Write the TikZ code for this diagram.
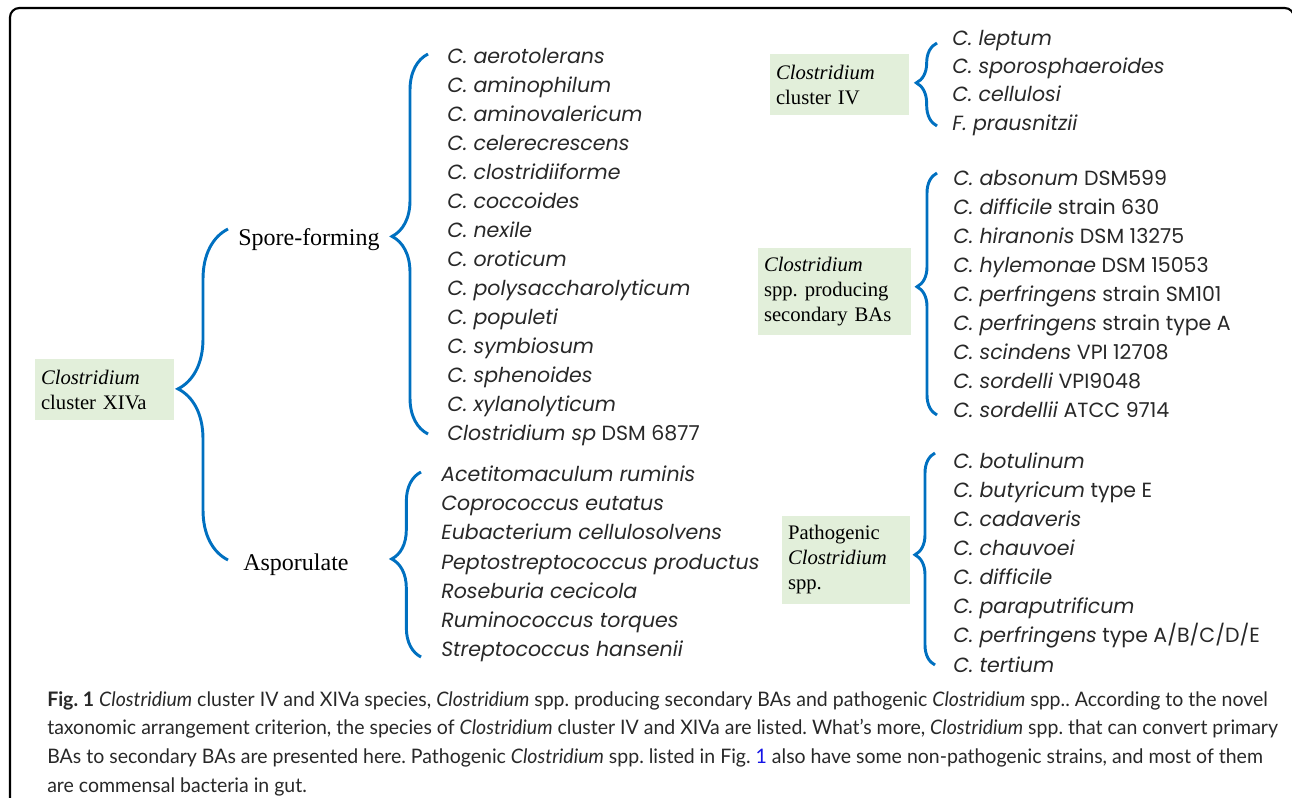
\documentclass[tikz,border=0pt]{standalone}
\usepackage{fontspec}
\setmainfont{Liberation Serif}
\newfontfamily\listfont[Ligatures=NoCommon]{Poppins}
\newfontfamily\capfont[FakeStretch=0.975,Ligatures=NoCommon]{Lato}
\usetikzlibrary{decorations.pathreplacing}
\definecolor{bracecol}{RGB}{0,112,192}
\definecolor{boxgreen}{RGB}{226,239,218}
\definecolor{linkblue}{RGB}{20,20,230}
\definecolor{txtgray}{RGB}{40,40,40}
\frenchspacing
\begin{document}
\frenchspacing
\begin{tikzpicture}[x=0.75pt,y=-0.75pt,
  lab/.style={font=\fontsize{18}{21}\selectfont, inner sep=0pt, anchor=base west},
  grp/.style={fill=boxgreen, font=\fontsize{15.5}{18.75}\selectfont, align=left, inner xsep=4.5pt, inner ysep=0pt},
  item/.style={font=\listfont\fontsize{15.4}{18}\selectfont, text=txtgray, inner sep=0pt, anchor=base west},
  brc/.style={draw=bracecol, line width=2.2pt, decorate},
  frame/.style={draw=black, line width=1.6pt, rounded corners=7pt}
]
\useasboundingbox (0,0) rectangle (1292,797);
\clip (0,0) rectangle (1292,797);
\draw[frame] (10,8) rectangle (1294,820);

% group boxes
\node[grp, minimum width=104.25pt, minimum height=45.75pt, text width=95.25pt] (xiva) at (104.5,389.5) {\textit{Clostridium}\\cluster XIVa};
\node[grp, minimum width=104.25pt, minimum height=45.75pt, text width=95.25pt] (civ) at (839.5,84.5) {\textit{Clostridium}\\cluster IV};
\node[grp, minimum width=114.75pt, minimum height=65.25pt, text width=105.75pt] (bas) at (834.5,291.5) {\textit{Clostridium}\\spp. producing\\secondary BAs};
\node[grp, minimum width=96pt, minimum height=66pt, text width=87pt] (path) at (846,560) {Pathogenic\\\textit{Clostridium}\\spp.};

% sub labels
\node[lab] (spore) at (238,245) {Spore-forming};
\node[lab] (aspo) at (243,570) {Asporulate};

% lists
\foreach \t [count=\i from 0] in {C. aerotolerans, C. aminophilum, C. aminovalericum, C. celerecrescens, C. clostridiiforme, C. coccoides, C. nexile, C. oroticum, C. polysaccharolyticum, C. populeti, C. symbiosum, C. sphenoides, C. xylanolyticum}
  \node[item] (sp\i) at (447,{63+29*\i}) {\textit{\t}};
\node[item] (sp13) at (447,440) {\textit{Clostridium sp} DSM 6877};

\foreach \t [count=\i from 0] in {Acetitomaculum ruminis, Coprococcus eutatus, Eubacterium cellulosolvens, Peptostreptococcus productus, Roseburia cecicola, Ruminococcus torques, Streptococcus hansenii}
  \node[item] (as\i) at (441,{481+29.33*\i}) {\textit{\t}};

\foreach \t [count=\i from 0] in {C. leptum, C. sporosphaeroides, C. cellulosi, F. prausnitzii}
  \node[item] (iv\i) at (952,{45+28.4*\i}) {\textit{\t}};

\foreach \t/\s [count=\i from 0] in {C. absonum/DSM599, C. difficile/strain 630, C. hiranonis/DSM 13275, C. hylemonae/DSM 15053, C. perfringens/strain SM101, C. perfringens/strain type A, C. scindens/VPI 12708, C. sordelli/VPI9048, C. sordellii/ATCC 9714}
  \node[item] (ba\i) at (953,{185+29*\i}) {\textit{\t} \s};

\node[item] (pa0) at (953,468) {\textit{C. botulinum}};
\node[item] (pa1) at (953,497.1) {\textit{C. butyricum} type E};
\node[item] (pa2) at (953,526.3) {\textit{C. cadaveris}};
\node[item] (pa3) at (953,555.4) {\textit{C. chauvoei}};
\node[item] (pa4) at (953,584.6) {\textit{C. difficile}};
\node[item] (pa5) at (953,613.7) {\textit{C. paraputrificum}};
\node[item] (pa6) at (953,642.9) {\textit{C. perfringens} type A/B/C/D/E};
\node[item] (pa7) at (953,672) {\textit{C. tertium}};

% brace end points
\coordinate (xT) at (228,229); \coordinate (xB) at (228,560);
\coordinate (sT) at (428,54);  \coordinate (sB) at (428,434);
\coordinate (aT) at (421,472); \coordinate (aB) at (421,657);
\coordinate (ivT) at (937,43); \coordinate (ivB) at (937,126);
\coordinate (bT) at (937,173); \coordinate (bB) at (937,415);
\coordinate (pT) at (935,453); \coordinate (pB) at (935,665);

\draw[brc, decoration={brace, amplitude=37.5pt, aspect=0.517}] (xB) -- (xT);
\draw[brc, decoration={brace, amplitude=27pt, aspect=0.52}] (sB) -- (sT);
\draw[brc, decoration={brace, amplitude=22pt, aspect=0.53}] (aB) -- (aT);
\draw[brc, decoration={brace, amplitude=15.5pt, aspect=0.52}] (ivB) -- (ivT);
\draw[brc, decoration={brace, amplitude=15pt, aspect=0.53}] (bB) -- (bT);
\draw[brc, decoration={brace, amplitude=15pt, aspect=0.52}] (pB) -- (pT);

% caption
\node[font=\capfont\fontsize{15}{21.5}\selectfont, text=txtgray, align=left, anchor=north west, inner sep=0pt] (cap) at (47,691)
{\textbf{Fig. 1} \textit{Clostridium} cluster IV and XIVa species, \textit{Clostridium} spp. producing secondary BAs and pathogenic \textit{Clostridium} spp.. According to the novel\\
taxonomic arrangement criterion, the species of \textit{Clostridium} cluster IV and XIVa are listed. What’s more, \textit{Clostridium} spp. that can convert primary\\
BAs to secondary BAs are presented here. Pathogenic \textit{Clostridium} spp. listed in Fig. \textcolor{linkblue}{1} also have some non-pathogenic strains, and most of them\\
are commensal bacteria in gut.};
\end{tikzpicture}
\end{document}
